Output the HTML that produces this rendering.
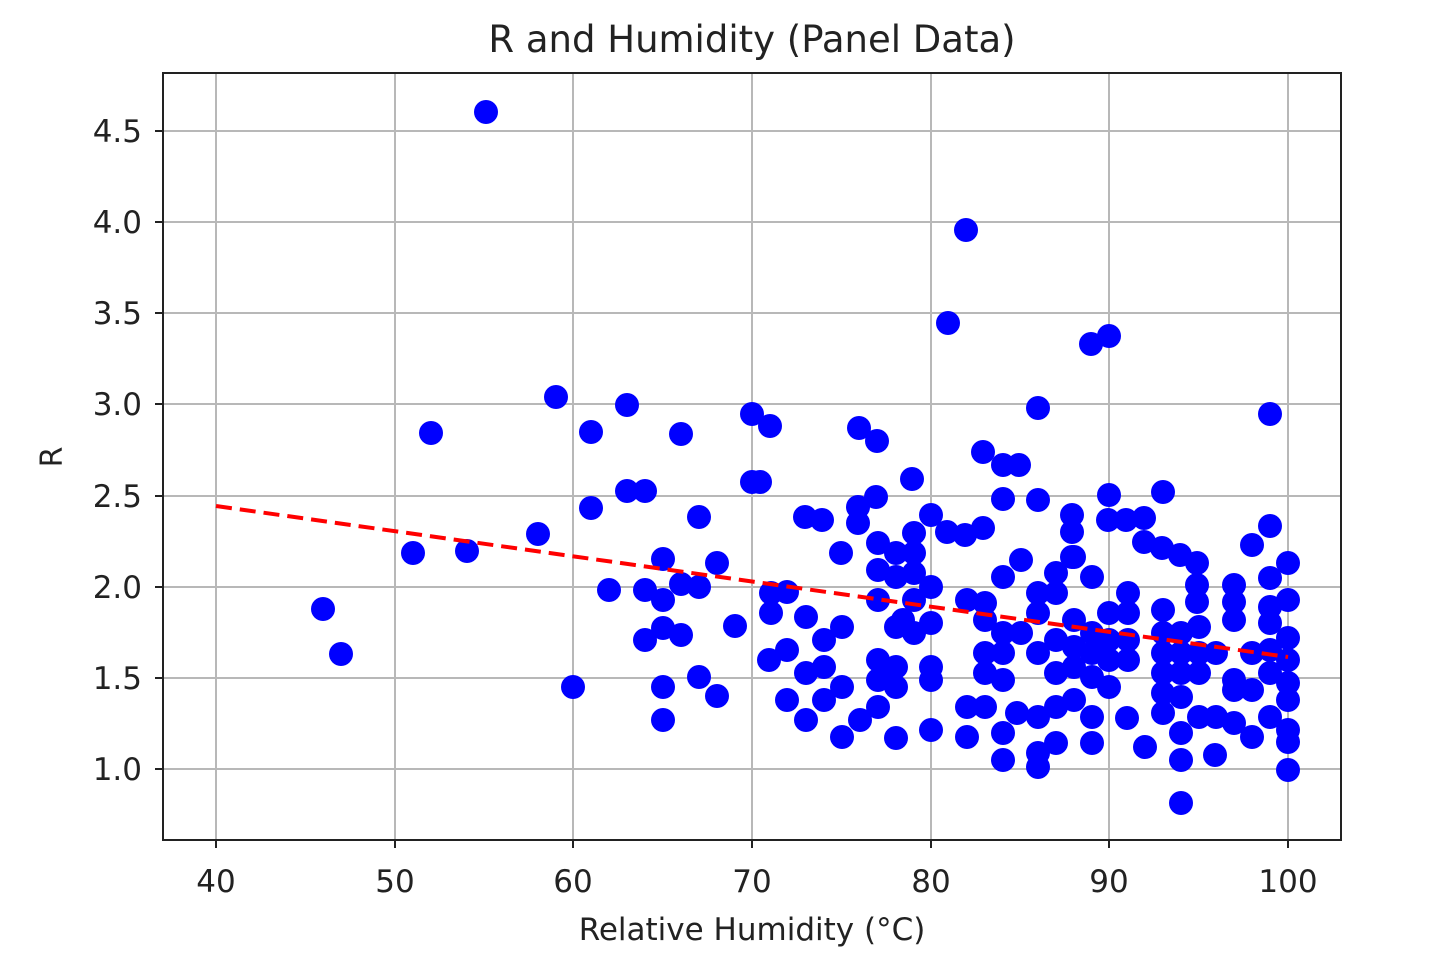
<!DOCTYPE html>
<html><head><meta charset="utf-8"><style>body{margin:0;background:#fff}svg{display:block}text{font-family:"DejaVu Sans","Liberation Sans",sans-serif;fill:#222}</style></head><body>
<svg width="1440" height="960" viewBox="0 0 1440 960">
<g stroke="#b8b8b8" stroke-width="2">
<line x1="216" y1="73" x2="216" y2="840"/><line x1="395" y1="73" x2="395" y2="840"/><line x1="573" y1="73" x2="573" y2="840"/><line x1="752" y1="73" x2="752" y2="840"/><line x1="931" y1="73" x2="931" y2="840"/><line x1="1109" y1="73" x2="1109" y2="840"/><line x1="1288" y1="73" x2="1288" y2="840"/>
<line x1="163" y1="131" x2="1341" y2="131"/><line x1="163" y1="222" x2="1341" y2="222"/><line x1="163" y1="313" x2="1341" y2="313"/><line x1="163" y1="404" x2="1341" y2="404"/><line x1="163" y1="496" x2="1341" y2="496"/><line x1="163" y1="587" x2="1341" y2="587"/><line x1="163" y1="678" x2="1341" y2="678"/><line x1="163" y1="769" x2="1341" y2="769"/>
</g>
<g fill="#0000ff" id="pts">
</g>
<line x1="216" y1="506" x2="1288" y2="657" stroke="#ff0000" stroke-width="4" stroke-dasharray="16,8"/>
<rect x="163" y="73" width="1178" height="767" fill="none" stroke="#222" stroke-width="2"/>
<g stroke="#222" stroke-width="2">
<line x1="216" y1="840" x2="216" y2="848"/><line x1="395" y1="840" x2="395" y2="848"/><line x1="573" y1="840" x2="573" y2="848"/><line x1="752" y1="840" x2="752" y2="848"/><line x1="931" y1="840" x2="931" y2="848"/><line x1="1109" y1="840" x2="1109" y2="848"/><line x1="1288" y1="840" x2="1288" y2="848"/>
<line x1="155" y1="131" x2="163" y2="131"/><line x1="155" y1="222" x2="163" y2="222"/><line x1="155" y1="313" x2="163" y2="313"/><line x1="155" y1="404" x2="163" y2="404"/><line x1="155" y1="496" x2="163" y2="496"/><line x1="155" y1="587" x2="163" y2="587"/><line x1="155" y1="678" x2="163" y2="678"/><line x1="155" y1="769" x2="163" y2="769"/>
</g>
<g font-size="31" text-anchor="middle">
<text x="216" y="892">40</text><text x="395" y="892">50</text><text x="573" y="892">60</text><text x="752" y="892">70</text><text x="931" y="892">80</text><text x="1109" y="892">90</text><text x="1288" y="892">100</text>
</g>
<g font-size="31" text-anchor="end">
<text x="142" y="142">4.5</text><text x="142" y="233">4.0</text><text x="142" y="324">3.5</text><text x="142" y="415">3.0</text><text x="142" y="507">2.5</text><text x="142" y="598">2.0</text><text x="142" y="689">1.5</text><text x="142" y="780">1.0</text>
</g>
<text x="752" y="940" font-size="31" text-anchor="middle">Relative Humidity (°C)</text>
<text x="752" y="52" font-size="37" text-anchor="middle">R and Humidity (Panel Data)</text>
<text transform="translate(62,457) rotate(-90)" font-size="30" text-anchor="middle">R</text>
</svg>
<script>
var P=[[486,112],[966,230],[948,323],[1091,344],[1109,336],[1038,408],[1270,414],[556,397],[627,405],[431,433],[591,432],[681,434],[752,414],[770,426],[859,428],[877,441],[752,482],[627,491],[645,491],[591,508],[538,534],[413,553],[467,551],[323,609],[341,654],[573,687],[609,590],[663,559],[645,590],[663,600],[645,640],[663,628],[681,635],[681,584],[699,517],[699,587],[717,563],[735,626],[699,677],[717,696],[663,687],[663,720],[771,593],
[760,482],[912,479],[983,452],[1003,465],[1019,465],[876,497],[858,507],[858,523],[805,517],[822,520],[841,553],[1003,499],[1038,500],[1109,495],[1163,492],[931,515],[947,532],[965,535],[983,528],[1072,515],[1072,532],[1072,557],[1108,520],[1126,520],[1144,518],[1144,542],[1162,548],[1180,555],[1197,563],[1197,585],[1197,602],[1270,526],[1252,545],[1288,563],[1270,578],[1234,585],[1234,602],[1234,620],[1288,600],[1270,607],[1270,623],[1288,638],[1288,660],[1288,683],[1288,700],[1288,730],[1288,742],[1288,770],[1270,650],[1270,673],[1270,717],[1252,653],[1252,690],[1252,737],[1234,680],[1234,690],[1234,723],[1216,653],[1216,717],[1215,755],[1199,627],[1199,653],[1199,673],[1199,717],[1181,633],[1181,653],[1181,673],[1181,697],[1181,733],[1181,760],[1181,803],[1163,610],[1163,633],[1163,653],[1163,673],[1163,693],[1163,713],[1145,747],[1127,718],[1128,593],[1128,613],[1128,640],[1128,660],[1109,613],[1109,640],[1109,660],[1109,687],[1092,577],[1092,633],[1092,653],[1092,677],[1092,717],[1092,743],[1074,557],[1074,620],[1074,647],[1074,667],[1074,700],[1056,573],[1056,593],[1056,640],[1056,673],[1056,707],[1056,743],[1038,593],[1038,613],[1038,653],[1038,717],[1038,753],[1038,767],[1021,560],[1021,633],[1017,713],[1003,577],[1003,633],[1003,653],[1003,680],[1003,733],[1003,760],[985,603],[985,620],[985,653],[985,673],[985,707],[967,600],[967,707],[967,737],[931,667],[931,680],[931,730],[931,587],[931,623],[914,533],[914,553],[914,573],[914,600],[914,633],[903,620],[896,553],[896,577],[896,627],[896,667],[896,687],[896,738],[878,543],[878,570],[878,600],[878,660],[878,680],[878,707],[860,720],[842,737],[842,687],[824,700],[824,640],[824,667],[806,617],[806,673],[806,720],[787,700],[787,650],[769,660],[771,613],[787,592],[842,627]];
var g=document.getElementById('pts'),s='';
P.forEach(function(p){s+='<circle cx="'+p[0]+'" cy="'+p[1]+'" r="12"/>';});
g.innerHTML=s;
</script>
</body></html>
